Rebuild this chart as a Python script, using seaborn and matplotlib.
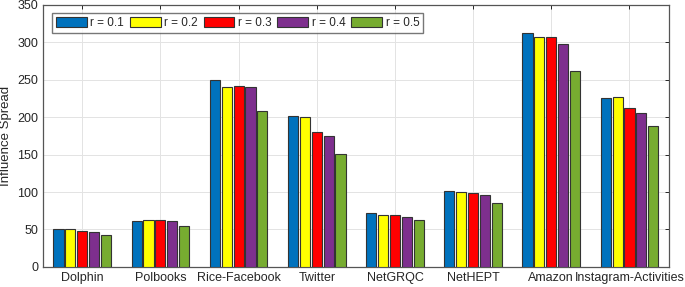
import pandas as pd
import matplotlib.pyplot as plt
import seaborn as sns

# --- data ---
datasets = ['Dolphin', 'Polbooks', 'Rice-Facebook', 'Twitter',
            'NetGRQC', 'NetHEPT', 'Amazon', 'Instagram-Activities']
r_labels = ['r = 0.1', 'r = 0.2', 'r = 0.3', 'r = 0.4', 'r = 0.5']

r01 = [50, 61, 250, 202, 72, 101, 313, 226]
r02 = [51, 63, 240, 200, 69, 100, 307, 227]
r03 = [48, 62, 241, 180, 69, 99, 307, 212]
r04 = [46, 61, 240, 175, 67, 96, 298, 206]
r05 = [42, 54, 208, 151, 63, 85, 262, 188]

colors = ['#0072BD', '#FFFF00', '#FF0000', '#7E2F8E', '#77AC30']

rows = []
for lab, vals in zip(r_labels, [r01, r02, r03, r04, r05]):
    for d, v in zip(datasets, vals):
        rows.append({'dataset': d, 'r': lab, 'spread': v})
df = pd.DataFrame(rows)

# --- plot ---
sns.set_style('whitegrid')
plt.rcParams['font.family'] = ['Liberation Sans', 'DejaVu Sans']

fig, ax = plt.subplots(figsize=(6.85, 2.87), dpi=100)
sns.barplot(data=df, x='dataset', y='spread', hue='r', order=datasets,
            hue_order=r_labels, palette=colors, saturation=1, width=0.76,
            gap=0.15, edgecolor='#333333', linewidth=0.8, ax=ax, zorder=3)

ax.set_xlim(-0.5, len(datasets) - 0.5)
ax.set_ylim(0, 350)
ax.set_yticks(range(0, 351, 50))
ax.set_xlabel('')
ax.set_ylabel('Influence Spread', fontsize=9.5, color='#262626')
ax.grid(True, color='#e3e3e3', linewidth=0.7, zorder=0)
ax.set_axisbelow(True)
ax.tick_params(axis='both', labelsize=9, colors='#262626', direction='in',
               length=3, top=True, right=True, width=0.7)
for s in ax.spines.values():
    s.set_color('#555555')
    s.set_linewidth(0.9)
    s.set_visible(True)

ax.legend(loc='upper left', ncol=5, fontsize=8.5, frameon=True,
          fancybox=False, edgecolor='#555555', handlelength=2.6,
          handleheight=0.9, handletextpad=0.3, columnspacing=0.5,
          borderpad=0.35, borderaxespad=0, bbox_to_anchor=(0.014, 0.97))

fig.subplots_adjust(left=0.063, right=0.976, top=0.983, bottom=0.07)
fig.savefig('out.png', dpi=100)
